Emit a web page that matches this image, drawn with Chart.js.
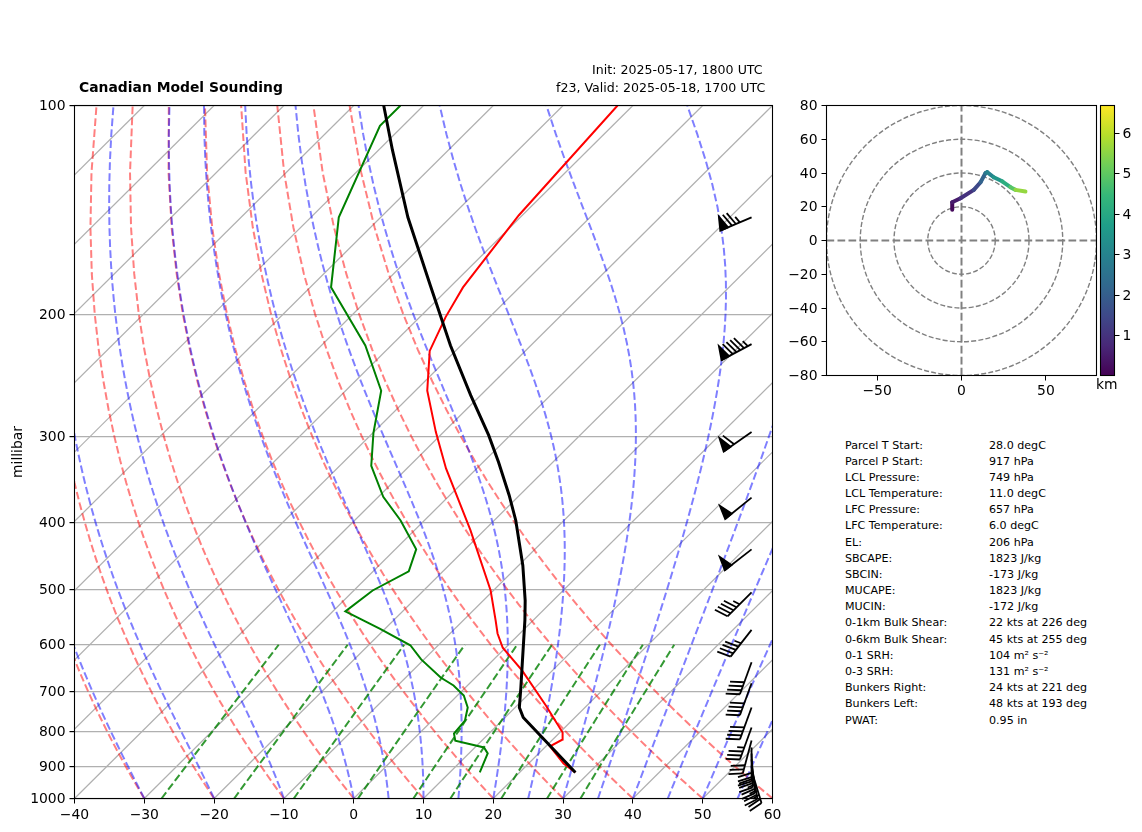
<!DOCTYPE html>
<html>
<head>
<meta charset="utf-8">
<script src="https://cdn.jsdelivr.net/npm/chart.js@4"></script>
<style>
body { margin: 0; background: #fff; font-family: "DejaVu Sans", sans-serif; color: #000; }
canvas { position: absolute; }
.txt { position: absolute; white-space: nowrap; line-height: 1; }
</style>
</head>
<body>
<canvas id="skew" width="800" height="832" style="left:0;top:0"></canvas>
<canvas id="hodo" width="326" height="315" style="left:786px;top:90px"></canvas>
<canvas id="cbar" width="52" height="300" style="left:1090px;top:90px"></canvas>
<div class="txt" style="left:79px;top:81px;font-size:13.9px;font-weight:bold">Canadian Model Sounding</div>
<div class="txt" style="left:592px;top:64px;font-size:12.6px">Init: 2025-05-17, 1800 UTC</div>
<div class="txt" style="left:556px;top:82px;font-size:12.6px">f23, Valid: 2025-05-18, 1700 UTC</div>
<div class="txt" style="left:1096px;top:378px;font-size:13.9px">km</div>
<div id="table"></div>
<script>
// sounding
const tempP = [917, 890, 841, 822, 803, 734, 654, 606, 578, 553, 501, 410, 334, 296, 258, 226, 202, 183, 144, 100];
const tempT = [28, 25, 20.6, 21.4, 20.4, 14.1, 5.7, -0.4, -3.2, -5.4, -10.4, -22, -34.4, -41.1, -48.3, -53.7, -56.3, -58.1, -60.5, -62.2];
const dewP = [917, 861, 844, 825, 806, 772, 739, 710, 687, 669, 630, 601, 569, 537, 501, 470, 437, 397, 367, 331, 297, 258, 222, 183, 145, 107, 100];
const dewT = [14.3, 12.7, 11.3, 6.2, 5, 4.7, 3.2, 0.9, -2, -5, -10.4, -14, -20.7, -28.2, -27.3, -24.9, -27, -33.4, -39.3, -45.5, -49.9, -54.9, -63.7, -77, -86, -93.3, -93.3];
const parcelP = [917, 806, 764, 739, 691, 639, 553, 518, 461, 397, 365, 327, 299, 262, 222, 182, 145, 116, 100];
const parcelT = [28, 17.1, 12.6, 10.6, 7.9, 4.7, -1.2, -4, -9.4, -16.9, -21.5, -27.8, -33.1, -41.4, -51.5, -63, -76.1, -88, -95.7];

// wind barbs
const barbP = [145, 221, 296, 368, 437, 504, 571, 636, 682, 739, 790, 825, 844, 861, 878, 896, 911];
const barbSpeed = [75, 95, 60, 50, 50, 45, 45, 40, 40, 40, 35, 30, 30, 30, 25, 25, 25];
const barbDir = [247, 242, 235, 231, 232, 225, 218, 200, 200, 200, 200, 195, 180, 178, 174, 170, 163];

// hodograph
const hodoU = [-5.5, -5.5, -0.6, 7.3, 11.3, 14.2, 15.2, 19.1, 24.1, 29, 32, 37.9];
const hodoV = [18.2, 22.7, 25, 30, 34.5, 39.9, 40.5, 37.5, 35.1, 31.6, 30, 29];
const hodoKm = [0.03, 0.3, 0.7, 1.2, 1.8, 2.5, 2.8, 3.2, 3.8, 4.6, 5.2, 6];
const hodoRings = [20, 40, 60, 80];
const hodoXTicks = [-50, 0, 50];
const hodoYTicks = [-80, -60, -40, -20, 0, 20, 40, 60, 80];
const kmTicks = [1, 2, 3, 4, 5, 6];
const kmRange = [0.01, 6.69];
const viridis = [[68, 1, 84], [72, 40, 120], [62, 73, 137], [49, 104, 142], [38, 130, 142], [31, 158, 137], [53, 183, 121], [110, 206, 88], [181, 222, 43], [253, 231, 37]];

// axes
const pressureTicks = [100, 200, 300, 400, 500, 600, 700, 800, 900, 1000];
const tempTicks = [-40, -30, -20, -10, 0, 10, 20, 30, 40, 50, 60];

// background grid of the diagram: start values, the curves follow the thermodynamic equations
const isotherms = [-130, -120, -110, -100, -90, -80, -70, -60, -50, -40, -30, -20, -10, 0, 10, 20, 30, 40, 50];
const dryStarts = [-40, -30, -20, -10, 0, 10, 20, 30, 40, 50, 60];
const moistStarts = [-40, -30, -20, -10, 0, 5, 10, 15, 20, 25, 30, 35, 40, 45, 50, 55, 60];
const mixRatios = [0.0004, 0.001, 0.002, 0.004, 0.007, 0.01, 0.016, 0.024, 0.032];

// parcel table
const tableLabels = ['Parcel T Start:', 'Parcel P Start:', 'LCL Pressure:', 'LCL Temperature:', 'LFC Pressure:', 'LFC Temperature:', 'EL:', 'SBCAPE:', 'SBCIN:', 'MUCAPE:', 'MUCIN:', '0-1km Bulk Shear:', '0-6km Bulk Shear:', '0-1 SRH:', '0-3 SRH:', 'Bunkers Right:', 'Bunkers Left:', 'PWAT:'];
const tableValues = ['28.0 degC', '917 hPa', '749 hPa', '11.0 degC', '657 hPa', '6.0 degC', '206 hPa', '1823 J/kg', '-173 J/kg', '1823 J/kg', '-172 J/kg', '22 kts at 226 deg', '45 kts at 255 deg', '104 m² s⁻²', '131 m² s⁻²', '24 kts at 221 deg', '48 kts at 193 deg', '0.95 in'];

const SKEW = 100; // degrees of x per decade of pressure
const BARB_X = 57;
const FONT = '"DejaVu Sans"';

function skewX(t, p) { return t + SKEW * Math.log10(1000 / p); }
function toPoints(ts, ps) { return ts.map((t, i) => ({ x: skewX(t, ps[i]), y: ps[i] })); }

function dryCurve(t0) {
    const pts = [];
    for (let p = 1000; p >= 100; p -= 25) {
        pts.push({ x: skewX((t0 + 273.15) * Math.pow(p / 1000, 0.2857) - 273.15, p), y: p });
    }
    return pts;
}

function moistSlope(T, p) {
    const es = 6.112 * Math.exp(17.67 * (T - 273.15) / (T - 29.65));
    const rs = 0.622 * es / (p - es);
    return (287 * T + 2.501e6 * rs) / (1005 + 2.501e6 * 2.501e6 * rs * 0.622 / (287 * T * T)) / p;
}

function moistCurve(t0) {
    const pts = [];
    let T = t0 + 273.15;
    for (let p = 1000; p >= 100; p -= 10) {
        pts.push({ x: skewX(T - 273.15, p), y: p });
        const mid = T + moistSlope(T, p) * -5;
        T += moistSlope(mid, p - 5) * -10;
    }
    return pts;
}

function mixCurve(w) {
    const pts = [];
    for (let p = 1000; p >= 600; p -= 25) {
        const l = Math.log(p * w / (0.622 + w) / 6.112);
        pts.push({ x: skewX(243.5 * l / (17.67 - l), p), y: p });
    }
    return pts;
}

function line(data, color, width, dash) {
    return { data: data, borderColor: color, borderWidth: width, borderDash: dash || [], showLine: true, pointRadius: 0, tension: 0 };
}

const skewSets = [
    line(toPoints(parcelT, parcelP), '#000', 3),
    line(toPoints(dewT, dewP), 'green', 2),
    line(toPoints(tempT, tempP), 'red', 2)
];
mixRatios.forEach(w => skewSets.push(line(mixCurve(w), 'rgba(0,128,0,0.8)', 2, [7.7, 3.3])));
moistStarts.forEach(t => skewSets.push(line(moistCurve(t), 'rgba(0,0,255,0.5)', 2, [7.7, 3.3])));
dryStarts.forEach(t => skewSets.push(line(dryCurve(t), 'rgba(255,0,0,0.5)', 2, [7.7, 3.3])));
isotherms.forEach(t => skewSets.push(line([{ x: skewX(t, 1000), y: 1000 }, { x: skewX(t, 100), y: 100 }], '#b0b0b0', 1.2)));

const frame = {
    id: 'frame',
    afterDraw(chart) {
        const a = chart.chartArea, c = chart.ctx;
        c.save();
        c.strokeStyle = '#000';
        c.lineWidth = 1.1;
        c.strokeRect(a.left, a.top, a.right - a.left, a.bottom - a.top);
        c.restore();
    }
};

function drawBarb(c, x, y, speed, dir) {
    const L = 34, h = L * 0.4, w = L * 0.25, gap = L * 0.125;
    const a = dir * Math.PI / 180;
    const dx = Math.sin(a), dy = -Math.cos(a); // towards where the wind comes from
    const px = -dy, py = dx;
    const at = (along, side) => [x + dx * along + px * side, y + dy * along + py * side];
    c.beginPath();
    c.moveTo(x, y);
    c.lineTo(...at(L, 0));
    c.stroke();
    let o = L;
    let rest = Math.round(speed / 5) * 5;
    const flags = Math.floor(rest / 50); rest -= flags * 50;
    const longs = Math.floor(rest / 10); rest -= longs * 10;
    for (let i = 0; i < flags; i++) {
        c.beginPath();
        c.moveTo(...at(o, 0));
        c.lineTo(...at(o - w / 2, h));
        c.lineTo(...at(o - w, 0));
        c.closePath();
        c.fill();
        c.stroke();
        o -= w + gap;
    }
    for (let i = 0; i < longs; i++) {
        c.beginPath();
        c.moveTo(...at(o, 0));
        c.lineTo(...at(o + w / 2, h));
        c.stroke();
        o -= gap;
    }
    if (rest >= 5) {
        if (flags + longs === 0) o -= 1.5 * gap;
        c.beginPath();
        c.moveTo(...at(o, 0));
        c.lineTo(...at(o + w / 4, h / 2));
        c.stroke();
    }
}

const barbs = {
    id: 'barbs',
    afterDatasetsDraw(chart) {
        const c = chart.ctx;
        c.save();
        c.strokeStyle = '#000';
        c.fillStyle = '#000';
        c.lineWidth = 1.8;
        barbP.forEach((p, i) => {
            drawBarb(c, chart.scales.x.getPixelForValue(BARB_X), chart.scales.y.getPixelForValue(p), barbSpeed[i], barbDir[i]);
        });
        c.restore();
    }
};

const rings = {
    id: 'rings',
    beforeDatasetsDraw(chart) {
        const c = chart.ctx, sx = chart.scales.x, sy = chart.scales.y, a = chart.chartArea;
        c.save();
        c.beginPath();
        c.rect(a.left, a.top, a.right - a.left, a.bottom - a.top);
        c.clip();
        c.strokeStyle = '#808080';
        c.lineWidth = 1.4;
        c.setLineDash([5, 2.2]);
        hodoRings.forEach(r => {
            c.beginPath();
            c.arc(sx.getPixelForValue(0), sy.getPixelForValue(0), sx.getPixelForValue(r) - sx.getPixelForValue(0), 0, 2 * Math.PI);
            c.stroke();
        });
        c.restore();
    }
};

function minus(v) { return String(v).replace('-', '\u2212'); }
function tickSet(list) { return s => { s.ticks = list.map(v => ({ value: v })); }; }
const tickFont = { family: FONT, size: 13.9 };
const noExtras = { legend: { display: false }, tooltip: { enabled: false } };

function cmap(v) {
    const f = Math.max(0, Math.min(0.999, (v - kmRange[0]) / (kmRange[1] - kmRange[0]))) * (viridis.length - 1);
    const i = Math.floor(f), m = f - i;
    const rgb = viridis[i].map((ch, k) => Math.round(ch + (viridis[i + 1][k] - ch) * m));
    return 'rgb(' + rgb.join(',') + ')';
}

new Chart(document.getElementById('skew'), {
    type: 'scatter',
    data: { datasets: skewSets },
    plugins: [frame, barbs],
    options: {
        responsive: false,
        animation: false,
        devicePixelRatio: 1,
        plugins: noExtras,
        layout: { autoPadding: false, padding: { top: 105.5, right: 27.5, left: 0, bottom: 0 } },
        scales: {
            x: {
                type: 'linear', min: -40, max: 60,
                afterBuildTicks: tickSet(tempTicks),
                afterFit: s => { s.height = 33.5; },
                grid: { drawOnChartArea: false, tickLength: 5, tickColor: '#000' },
                ticks: { font: tickFont, color: '#000', maxRotation: 0, padding: 4, callback: minus }
            },
            y: {
                type: 'logarithmic', reverse: true, min: 100, max: 1000,
                afterBuildTicks: tickSet(pressureTicks),
                afterFit: s => { s.width = 74.5; },
                title: { display: true, text: 'millibar', font: tickFont, color: '#000', padding: { top: 10, bottom: 0 } },
                grid: { color: '#b0b0b0', lineWidth: 1.2, tickLength: 5, tickColor: '#000' },
                ticks: { font: tickFont, color: '#000', padding: 4, labelOffset: 1, autoSkip: false, callback: v => String(v) }
            }
        }
    }
});

new Chart(document.getElementById('hodo'), {
    type: 'scatter',
    data: {
        datasets: [
            {
                data: hodoU.map((u, i) => ({ x: u, y: hodoV[i] })),
                showLine: true, pointRadius: 0, borderWidth: 4, borderCapStyle: 'round', borderJoinStyle: 'round',
                segment: { borderColor: s => cmap((hodoKm[s.p0DataIndex] + hodoKm[s.p1DataIndex]) / 2) }
            },
            line([{ x: -80, y: 0 }, { x: 80, y: 0 }], '#808080', 2, [7.7, 3.3]),
            line([{ x: 0, y: -80 }, { x: 0, y: 80 }], '#808080', 2, [7.7, 3.3])
        ]
    },
    plugins: [frame, rings],
    options: {
        responsive: false,
        animation: false,
        devicePixelRatio: 1,
        plugins: noExtras,
        layout: { autoPadding: false, padding: { top: 15.5, right: 15.5, left: 0, bottom: 0 } },
        scales: {
            x: {
                type: 'linear', min: -80, max: 80,
                afterBuildTicks: tickSet(hodoXTicks),
                afterFit: s => { s.height = 29.5; },
                grid: { drawOnChartArea: false, tickLength: 5, tickColor: '#000' },
                ticks: { font: tickFont, color: '#000', maxRotation: 0, padding: 3, callback: minus }
            },
            y: {
                type: 'linear', min: -80, max: 80,
                afterBuildTicks: tickSet(hodoYTicks),
                afterFit: s => { s.width = 40.5; },
                grid: { drawOnChartArea: false, tickLength: 5, tickColor: '#000' },
                ticks: { font: tickFont, color: '#000', padding: 4, labelOffset: 1, callback: minus }
            }
        }
    }
});

new Chart(document.getElementById('cbar'), {
    type: 'bar',
    data: {
        labels: ['km'],
        datasets: [{
            data: [kmRange],
            barPercentage: 1,
            categoryPercentage: 1,
            backgroundColor: ctx => {
                const a = ctx.chart.chartArea;
                if (!a) return 'rgb(68,1,84)';
                const g = ctx.chart.ctx.createLinearGradient(0, a.bottom, 0, a.top);
                viridis.forEach((col, i) => g.addColorStop(i / (viridis.length - 1), 'rgb(' + col.join(',') + ')'));
                return g;
            }
        }]
    },
    plugins: [frame],
    options: {
        responsive: false,
        animation: false,
        devicePixelRatio: 1,
        plugins: noExtras,
        layout: { autoPadding: false, padding: { top: 15.5, left: 10.5, right: 0, bottom: 14.5 } },
        scales: {
            x: { display: false },
            y: {
                type: 'linear', position: 'right', min: kmRange[0], max: kmRange[1],
                afterBuildTicks: tickSet(kmTicks),
                afterFit: s => { s.width = 27.5; },
                grid: { drawOnChartArea: false, tickLength: 5, tickColor: '#000' },
                ticks: { font: tickFont, color: '#000', padding: 3, labelOffset: 1, callback: v => String(v) }
            }
        }
    }
});

const table = document.getElementById('table');
tableLabels.forEach((label, i) => {
    const top = 439.5 + i * 16.18;
    table.insertAdjacentHTML('beforeend',
        '<div class="txt" style="left:845px;top:' + top + 'px;font-size:11.1px">' + label + '</div>' +
        '<div class="txt" style="left:989px;top:' + top + 'px;font-size:11.1px">' + tableValues[i] + '</div>');
});
</script>
</body>
</html>
